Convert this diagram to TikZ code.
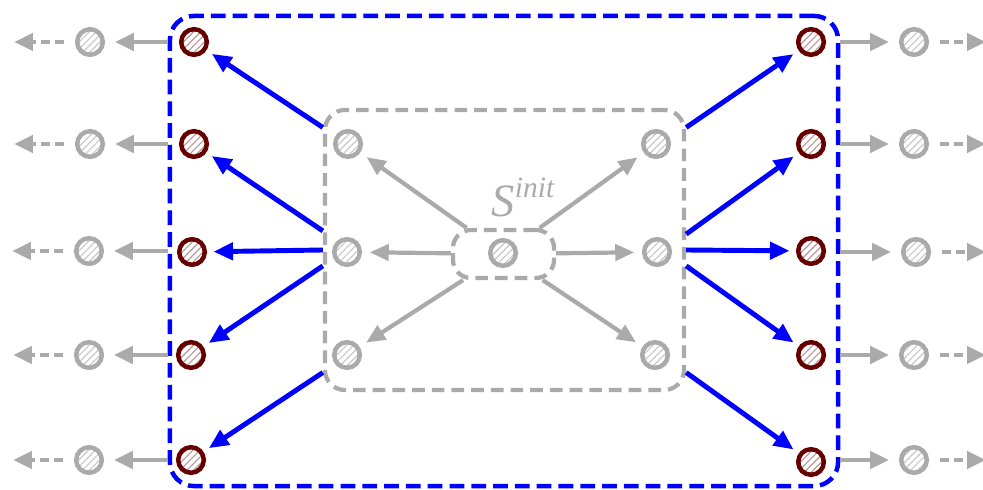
\documentclass[tikz,border=0pt]{standalone}
\usepackage{fontspec}
\setmainfont{Liberation Serif}
\usetikzlibrary{arrows.meta,patterns.meta}

\definecolor{lgray}{RGB}{170,170,170}
\definecolor{hgray}{RGB}{200,200,200}
\definecolor{dmaroon}{RGB}{102,0,0}
\definecolor{hmaroon}{RGB}{185,150,150}

\tikzset{
  zstate/.style={circle, draw=lgray, line width=3.2pt, minimum size=0.64cm, inner sep=0pt,
    preaction={fill=white}, pattern color=hgray,
    pattern={Lines[angle=45,distance=3.5pt,line width=0.8pt]}},
  endstate/.style={zstate, draw=dmaroon, pattern color=hmaroon},
  stepfwd/.style={draw=lgray, line width=3.5pt, -{Triangle[length=13.5pt,width=12pt]}, shorten >=7pt},
  stepdots/.style={draw=lgray, line width=3.5pt, -{Triangle[length=13.5pt,width=12pt]},
    dash pattern=on 6.4pt off 3.6pt, shorten <=8pt},
  expandarr/.style={draw=blue, line width=3.5pt, -{Triangle[length=14pt,width=12pt]}, shorten >=4.5pt},
  spreadarr/.style={draw=lgray, line width=3pt, -{Triangle[length=13.5pt,width=11.5pt]}, shorten >=5.5pt},
  regbox/.style={draw=blue, line width=3.2pt, dash pattern=on 10.5pt off 5pt, rounded corners=0.6cm,
    minimum width=16.7cm, minimum height=11.75cm},
  initbox/.style={draw=lgray, line width=3pt, dash pattern=on 9pt off 5pt, rounded corners=0.5cm,
    minimum width=8.975cm, minimum height=7cm},
  seedbox/.style={draw=lgray, line width=3pt, dash pattern=on 9pt off 5pt, rounded corners=0.45cm,
    minimum width=2.525cm, minimum height=1.2cm}
}

\begin{document}
\begin{tikzpicture}[x=0.025cm, y=-0.025cm]
  \useasboundingbox (0,0) rectangle (983,490);

  % Regionen
  \node[regbox] (reg) at (504,251) {};
  \node[initbox] (init) at (504.5,250) {};
  \node[seedbox] (seed) at (503.5,254) {};
  \node[text=lgray, inner sep=0pt] (slabel) at (523,197)
    {\fontsize{33}{33}\selectfont\itshape S\raisebox{13.5pt}{\fontsize{21}{21}\selectfont init}};

  % Startzustand
  \node[zstate] (c) at (503,253) {};

  % innere Zustaende
  \node[zstate] (il1) at (348,144) {};
  \node[zstate] (il2) at (347,252) {};
  \node[zstate] (il3) at (347,355) {};
  \node[zstate] (ir1) at (656,144) {};
  \node[zstate] (ir2) at (657,252) {};
  \node[zstate] (ir3) at (655,355) {};

  \draw[spreadarr] (seed) -- (il1);
  \draw[spreadarr] (seed) -- (il2);
  \draw[spreadarr] (seed) -- (il3);
  \draw[spreadarr] (seed) -- (ir1);
  \draw[spreadarr] (seed) -- (ir2);
  \draw[spreadarr] (seed) -- (ir3);

  % Rand links
  \node[endstate] (ml1) at (194,42) {};
  \node[endstate] (ml2) at (194,144) {};
  \node[endstate] (ml3) at (192,252) {};
  \node[endstate] (ml4) at (191,355) {};
  \node[endstate] (ml5) at (191,460) {};

  \draw[expandarr] (init.146) -- (ml1);
  \draw[expandarr] (init.174.5) -- (ml2);
  \draw[expandarr] (init.180) -- (ml3);
  \draw[expandarr] (init.185.5) -- (ml4);
  \draw[expandarr] (init.214) -- (ml5);

  % Rand rechts
  \node[endstate] (mr1) at (811,42) {};
  \node[endstate] (mr2) at (811,144) {};
  \node[endstate] (mr3) at (811,251) {};
  \node[endstate] (mr4) at (811,355) {};
  \node[endstate] (mr5) at (811,462) {};

  \draw[expandarr] (init.34) -- (mr1);
  \draw[expandarr] (init.5.5) -- (mr2);
  \draw[expandarr] (init.0) -- (mr3);
  \draw[expandarr] (init.-5.5) -- (mr4);
  \draw[expandarr] (init.-34) -- (mr5);

  % aussen links
  \node[zstate] (gl1) at (90,42) {};
  \node[zstate] (gl2) at (90,144) {};
  \node[zstate] (gl3) at (89,251) {};
  \node[zstate] (gl4) at (89,355) {};
  \node[zstate] (gl5) at (89,460) {};
  \coordinate (el1) at (14,42);
  \coordinate (el2) at (14,144);
  \coordinate (el3) at (12,251);
  \coordinate (el4) at (13,355);
  \coordinate (el5) at (13,460);

  \draw[stepfwd] (reg.west |- ml1) -- (gl1);
  \draw[stepfwd] (reg.west |- ml2) -- (gl2);
  \draw[stepfwd] (reg.west |- gl3) -- (gl3);
  \draw[stepfwd] (reg.west |- ml4) -- (gl4);
  \draw[stepfwd] (reg.west |- ml5) -- (gl5);
  \draw[stepdots] (gl1) -- (el1);
  \draw[stepdots] (gl2) -- (el2);
  \draw[stepdots] (gl3) -- (el3);
  \draw[stepdots] (gl4) -- (el4);
  \draw[stepdots] (gl5) -- (el5);

  % aussen rechts
  \node[zstate] (gr1) at (914,42) {};
  \node[zstate] (gr2) at (914,144) {};
  \node[zstate] (gr3) at (916,252) {};
  \node[zstate] (gr4) at (914,355) {};
  \node[zstate] (gr5) at (914,460) {};
  \coordinate (er1) at (986,42);
  \coordinate (er2) at (986,144);
  \coordinate (er3) at (986,252);
  \coordinate (er4) at (986,355);
  \coordinate (er5) at (986,460);

  \draw[stepfwd] (reg.east |- mr1) -- (gr1);
  \draw[stepfwd] (reg.east |- mr2) -- (gr2);
  \draw[stepfwd] (reg.east |- gr3) -- (gr3);
  \draw[stepfwd] (reg.east |- mr4) -- (gr4);
  \draw[stepfwd] (reg.east |- gr5) -- (gr5);
  \draw[stepdots] (gr1) -- (er1);
  \draw[stepdots] (gr2) -- (er2);
  \draw[stepdots] (gr3) -- (er3);
  \draw[stepdots] (gr4) -- (er4);
  \draw[stepdots] (gr5) -- (er5);
\end{tikzpicture}
\end{document}
